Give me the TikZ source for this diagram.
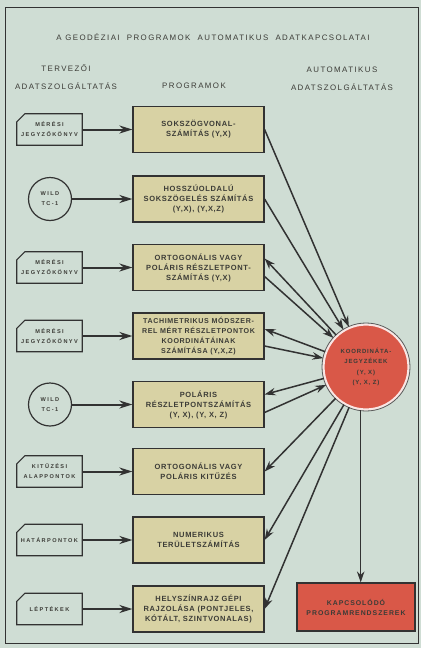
\documentclass[tikz,border=0pt]{standalone}
\usepackage{fontspec}
\setmainfont{Liberation Sans}
\newfontfamily\ttlfont[LetterSpace=18]{Liberation Sans}
\newfontfamily\bxfont[LetterSpace=9]{Liberation Sans}
\newfontfamily\inpfont[LetterSpace=25]{Liberation Sans}
\newfontfamily\redfont[LetterSpace=14]{Liberation Sans}
\usetikzlibrary{arrows.meta,calc}
\definecolor{bgc}{RGB}{207,221,212}
\definecolor{boxc}{RGB}{216,210,164}
\definecolor{redc}{RGB}{217,88,72}
\definecolor{ink}{RGB}{50,50,50}
\definecolor{txt}{RGB}{60,60,55}
\tikzset{
  ttl/.style={font=\ttlfont\fontsize{7.9}{18}\selectfont, text=txt, align=center, inner sep=0pt},
  prog/.style={draw=ink, line width=1.2pt, fill=boxc, minimum width=131pt, minimum height=46pt,
     inner sep=1pt, align=center, text=txt, font=\bxfont\bfseries\fontsize{7.5}{10}\selectfont},
  inbox/.style={minimum width=65pt, minimum height=31pt, inner sep=0pt, align=center, text=txt,
     font=\inpfont\bfseries\fontsize{5.6}{10}\selectfont},
  incirc/.style={circle, draw=ink, line width=1.2pt, minimum size=43pt, inner sep=0pt, align=center,
     text=txt, font=\inpfont\bfseries\fontsize{5.6}{10}\selectfont},
  cut/.style={draw=ink, line width=1.2pt},
  arr/.style={draw=ink, line width=1.5pt, -{Stealth[length=11pt,width=7.5pt]}},
  inarr/.style={draw=ink, line width=2pt, -{Stealth[length=13pt,width=8pt]}},
  redcirc/.style={circle, fill=redc, draw=white!85!redc, line width=2.2pt, minimum size=85pt, inner sep=0pt,
     align=center, text=txt, font=\redfont\bfseries\fontsize{6}{10.5}\selectfont},
  redbox/.style={draw=ink, line width=1.2pt, fill=redc, minimum width=118pt, minimum height=48pt,
     inner sep=1pt, align=center, text=txt, font=\redfont\bfseries\fontsize{6.9}{10}\selectfont},
}
\begin{document}
\begin{tikzpicture}[x=1pt,y=-1pt]
\useasboundingbox (0,0) rectangle (421,648);
\fill[bgc] (0,0) rectangle (421,648);
\draw[ink, line width=1pt] (5,7) rectangle (418,643);

\node[ttl] (title) at (213,37) {A GEODÉZIAI\ \ PROGRAMOK\ \ AUTOMATIKUS\ \ ADATKAPCSOLATAI};
\node[ttl] (hleft) at (66,77) {TERVEZŐI\\ADATSZOLGÁLTATÁS};
\node[ttl] (hmid) at (194,86) {PROGRAMOK};
\node[ttl] (hright) at (342,79) {AUTOMATIKUS\\ADATSZOLGÁLTATÁS};

% programs
\node[prog] (b1) at (198.5,129.5) {SOKSZÖGVONAL-\\SZÁMÍTÁS (Y,X)};
\node[prog] (b2) at (198.5,199) {HOSSZÚOLDALÚ\\SOKSZÖGELÉS SZÁMÍTÁS\\(Y,X), (Y,X,Z)};
\node[prog] (b3) at (198.5,267.5) {ORTOGONÁLIS VAGY\\POLÁRIS RÉSZLETPONT-\\SZÁMÍTÁS (Y,X)};
\node[prog, font=\bxfont\bfseries\fontsize{7.1}{10}\selectfont] (b4) at (198.5,336) {TACHIMETRIKUS MÓDSZER-\\REL MÉRT RÉSZLETPONTOK\\KOORDINÁTÁINAK\\SZÁMÍTÁSA (Y,X,Z)};
\node[prog] (b5) at (198.5,404.5) {POLÁRIS\\RÉSZLETPONTSZÁMÍTÁS\\(Y, X), (Y, X, Z)};
\node[prog] (b6) at (198.5,471.5) {ORTOGONÁLIS VAGY\\POLÁRIS KITŰZÉS};
\node[prog] (b7) at (198.5,540) {NUMERIKUS\\TERÜLETSZÁMÍTÁS};
\node[prog] (b8) at (198.5,609) {HELYSZÍNRAJZ GÉPI\\RAJZOLÁSA (PONTJELES,\\KÓTÁLT, SZINTVONALAS)};

% inputs
\node[inbox] (i1) at (49.5,129.5) {MÉRÉSI\\JEGYZŐKÖNYV};
\node[incirc] (i2) at (50,199) {WILD\\TC-1};
\node[inbox] (i3) at (49.5,267.5) {MÉRÉSI\\JEGYZŐKÖNYV};
\node[inbox] (i4) at (49.5,336) {MÉRÉSI\\JEGYZŐKÖNYV};
\node[incirc] (i5) at (50,404.5) {WILD\\TC-1};
\node[inbox] (i6) at (49.5,471.5) {KITŰZÉSI\\ALAPPONTOK};
\node[inbox] (i7) at (49.5,540) {HATÁRPONTOK};
\node[inbox] (i8) at (49.5,609) {LÉPTÉKEK};
\foreach \n in {i1,i3,i4,i6,i7,i8}{
  \draw[cut] (\n.south west) -- (\n.south east) -- (\n.north east) -- ([xshift=8pt]\n.north west)
     -- ([yshift=-8pt]\n.north west) -- cycle;
}
\foreach \k in {1,...,8}{
  \draw[inarr] (i\k) -- (b\k);
}

% outputs
\node[redcirc] (kj) at (366,367) {KOORDINÁTA-\\JEGYZÉKEK\\(Y, X)\\(Y, X, Z)};
\draw[ink!80, line width=0.8pt] (kj.center) circle[radius=44];
\node[redbox] (kp) at (356,607) {KAPCSOLÓDÓ\\PROGRAMRENDSZEREK};

\draw[arr] (b1.east) -- (kj);
\draw[arr] (b2.east) -- (kj);
\draw[arr] (kj) -- ([yshift=9pt]b3.east);
\draw[arr] ([yshift=-9pt]b3.east) -- (kj);
\draw[arr] (kj) -- ([yshift=7pt]b4.east);
\draw[arr] ([yshift=-10pt]b4.east) -- (kj);
\draw[arr] (kj) -- ([yshift=10pt]b5.east);
\draw[arr] ([yshift=-8pt]b5.east) -- (kj);
\draw[arr] (kj) -- (b6.east);
\draw[arr] (kj) -- (b7.east);
\draw[arr] (kj) -- (b8.east);
\draw[arr] (kj.263) -- (kj.263 |- kp.north);
\end{tikzpicture}
\end{document}
